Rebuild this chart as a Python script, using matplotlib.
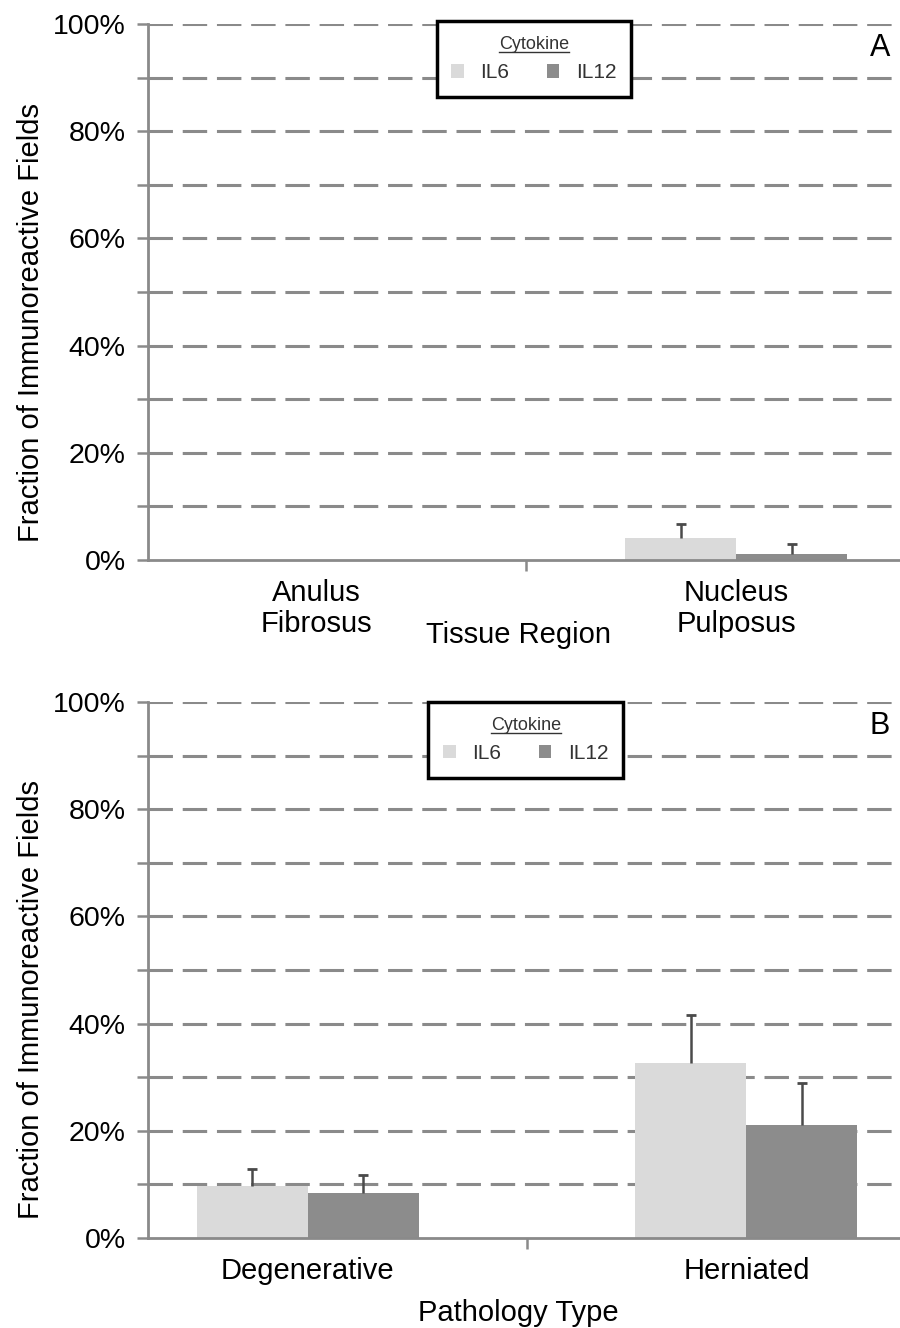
import numpy as np
import matplotlib
matplotlib.use("Agg")
import matplotlib.pyplot as plt
from matplotlib.patches import Patch
from matplotlib.lines import Line2D
from matplotlib.ticker import PercentFormatter, MultipleLocator, FixedLocator

# Panel A: by tissue region
regions = ["Anulus\nFibrosus", "Nucleus\nPulposus"]
il6_region = [0.0, 4.1]
il6_region_err = [0.0, 2.6]
il12_region = [0.0, 1.1]
il12_region_err = [0.0, 1.9]

# Panel B: by pathology type
pathology = ["Degenerative", "Herniated"]
il6_path = [9.7, 32.6]
il6_path_err = [3.2, 9.0]
il12_path = [8.4, 21.1]
il12_path_err = [3.4, 7.8]

cytokines = ["IL6", "IL12"]
colors = ["#dadada", "#8c8c8c"]
axis_grey = "#8a8a8a"
err_grey = "#4a4a4a"

plt.rcParams["font.family"] = ["Liberation Sans", "DejaVu Sans"]

fig = plt.figure(figsize=(9, 13.28), dpi=100)
ax_a = fig.add_axes([0.1644, 0.5783, 0.8356, 0.4036])
ax_b = fig.add_axes([0.1644, 0.0678, 0.8356, 0.4036])


def draw_panel(ax, cats, series, errs, width, xlim, xlabel, letter, leg_x, leg_top):
    x = np.arange(len(cats))
    offsets = [-width / 2, width / 2]
    for vals, err, off, col, name in zip(series, errs, offsets, colors, cytokines):
        vals = np.array(vals)
        err = np.array(err)
        ax.bar(x + off, vals, width=width, color=col, edgecolor="none", label=name, zorder=2)
        # upper error only, capped at the top
        keep = err > 0
        xs = (x + off)[keep]
        ax.vlines(xs, vals[keep], vals[keep] + err[keep], color=err_grey, lw=1.8, zorder=3)
        ax.plot(xs, vals[keep] + err[keep], ls="none", marker="_", ms=7, mew=2,
                color=err_grey, zorder=3)

    ax.set_ylim(0, 100)
    ax.set_xlim(*xlim)
    ax.yaxis.set_major_locator(MultipleLocator(20))
    ax.yaxis.set_minor_locator(MultipleLocator(10))
    ax.yaxis.set_major_formatter(PercentFormatter(xmax=100, decimals=0))
    ax.tick_params(axis="y", which="both", direction="out", length=8, width=1.8,
                   color=axis_grey, labelsize=20.5, pad=8)

    ax.set_xticks(x)
    ax.set_xticklabels(cats, fontsize=21, linespacing=1.1)
    ax.tick_params(axis="x", which="major", length=0, pad=14)
    ax.xaxis.set_minor_locator(FixedLocator([0.5]))
    ax.tick_params(axis="x", which="minor", direction="out", length=8, width=1.8, color=axis_grey)

    # dashed gridlines every 10%
    for yv in np.arange(10, 101, 10):
        ax.axhline(yv, color=axis_grey, lw=2.2, dashes=(8, 3.2), zorder=1)

    for side in ["top", "right"]:
        ax.spines[side].set_visible(False)
    for side in ["left", "bottom"]:
        ax.spines[side].set_color(axis_grey)
        ax.spines[side].set_linewidth(2)

    ax.set_ylabel("Fraction of Immunoreactive Fields", fontsize=21)
    ax.yaxis.set_label_coords(-0.137, 0.444)
    ax.set_xlabel(xlabel, fontsize=21)
    ax.xaxis.set_label_coords(0.493, -0.114)

    ax.text(0.973, 0.955, letter, transform=ax.transAxes, fontsize=22,
            ha="center", va="center")

    handles = [Patch(facecolor=c, edgecolor="none", label=n) for c, n in zip(colors, cytokines)]
    leg = ax.legend(handles=handles, ncol=2, title="Cytokine", loc="upper left",
                    bbox_to_anchor=(leg_x, leg_top), fontsize=15, title_fontsize=13,
                    frameon=True, fancybox=False, edgecolor="black", framealpha=1,
                    handlelength=0.6, handleheight=0.6, handletextpad=0.8,
                    columnspacing=1.8, borderpad=0.7, borderaxespad=0)
    leg.get_frame().set_linewidth(2.5)
    leg.set_zorder(5)
    leg.get_title().set_color("#333333")
    for t in leg.get_texts():
        t.set_color("#333333")
    return leg


leg_a = draw_panel(ax_a, regions, [il6_region, il12_region], [il6_region_err, il12_region_err],
                   0.264, (-0.4, 1.39), "Tissue Region", "A", 0.384, 1.005)
leg_b = draw_panel(ax_b, pathology, [il6_path, il12_path], [il6_path_err, il12_path_err],
                   0.253, (-0.364, 1.35), "Pathology Type", "B", 0.373, 1.0)

# underline the legend titles
fig.canvas.draw()
for leg in (leg_a, leg_b):
    bb = leg.get_title().get_window_extent()
    inv = fig.transFigure.inverted()
    (x0, y0), (x1, _) = inv.transform([(bb.x0, bb.y0 + 1), (bb.x1, bb.y0)])
    fig.add_artist(Line2D([x0, x1], [y0, y0], transform=fig.transFigure,
                          color="#333333", lw=1))

fig.savefig("out.png", dpi=100)
